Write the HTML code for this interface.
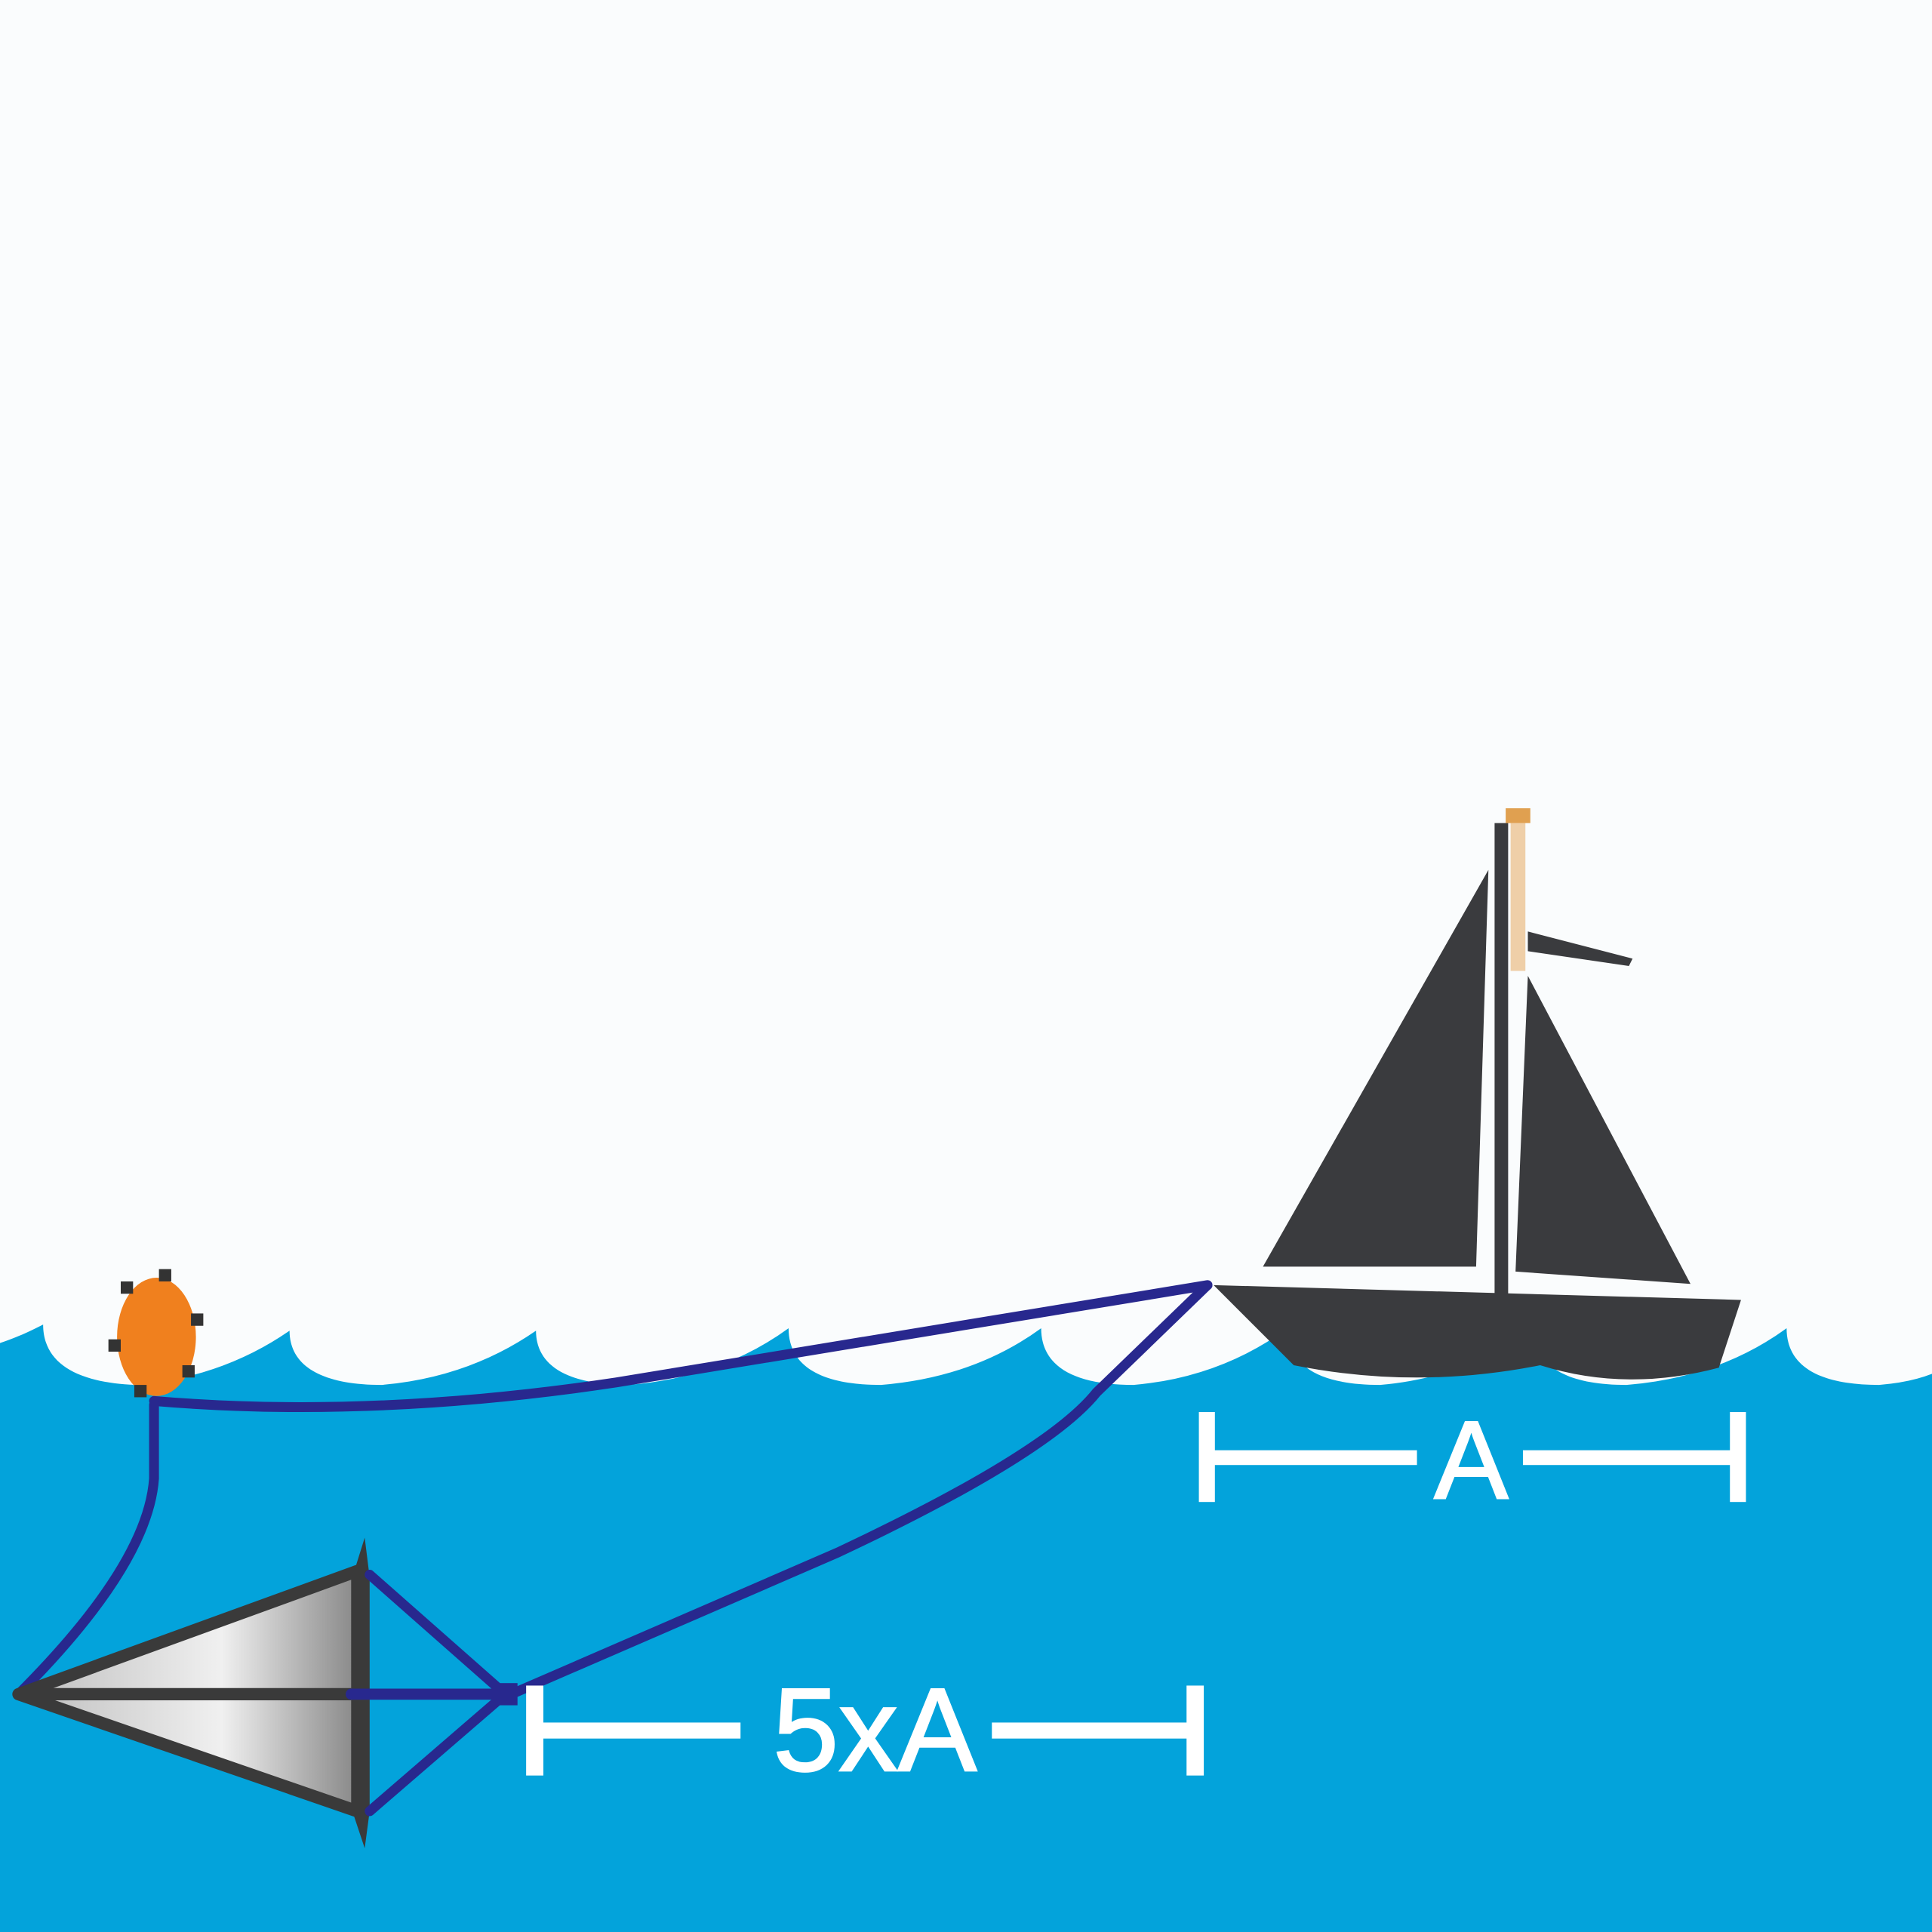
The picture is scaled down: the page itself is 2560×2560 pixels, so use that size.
<!DOCTYPE html>
<html><head><style>html,body{margin:0;padding:0;background:#fafcfd}svg{display:block}</style></head>
<body>
<svg width="2560" height="2560" viewBox="0 0 1568 1568" xmlns="http://www.w3.org/2000/svg">
<defs>
<linearGradient id="g" x1="0" y1="0" x2="1" y2="0">
<stop offset="0" stop-color="#bdbdbd"/><stop offset="0.6" stop-color="#f0f0f0"/><stop offset="1" stop-color="#888"/>
</linearGradient>
</defs>
<rect width="1568" height="1568" fill="#fafcfd"/>
<path d="M0,1090 C15,1085 25,1080 35,1075 C35,1105 60,1122 110,1124 Q180,1118 235,1080 C235,1108 260,1124 310,1124 Q380,1118 435,1080 C435,1108 460,1124 510,1124 Q585,1118 640,1078 C640,1108 665,1124 715,1124 Q790,1118 845,1078 C845,1108 870,1124 920,1124 Q990,1118 1045,1078 C1045,1108 1070,1124 1120,1124 Q1190,1118 1245,1078 C1245,1108 1270,1124 1320,1124 Q1395,1118 1450,1078 C1450,1108 1475,1124 1525,1124 Q1550,1122 1568,1115 L1568,1568 L0,1568 Z" fill="#03a3db"/>
<!-- boat -->
<path d="M985,1043 L1413,1055 L1395,1110 Q1320,1130 1250,1108 Q1150,1128 1050,1108 Z" fill="#3a3b3e"/>
<polygon points="1208,706 1025,1028 1198,1028" fill="#3a3b3e"/>
<polygon points="1240,792 1372,1042 1230,1032" fill="#3a3b3e"/>
<rect x="1213" y="668" width="11" height="382" fill="#3a3b3e"/>
<rect x="1222" y="656" width="20" height="12" fill="#e0a050"/>
<rect x="1226" y="668" width="12" height="120" fill="#e8b070" opacity="0.6"/>
<polygon points="1240,756 1325,778 1322,784 1240,772" fill="#3a3b3e"/>
<!-- ropes -->
<g fill="none" stroke="#28288e" stroke-width="8" stroke-linecap="round" stroke-linejoin="round">
<path d="M125,1137 Q300,1152 500,1122 L980,1043"/>
<path d="M980,1043 L890,1130 Q850,1180 680,1260 L415,1375"/>
<path d="M125,1140 L125,1200 Q120,1270 15,1375"/>
</g>
<!-- drogue -->
<polygon points="15,1375 290,1275 290,1470" fill="url(#g)" stroke="#3a3a3a" stroke-width="10" stroke-linejoin="round"/>
<line x1="15" y1="1375" x2="285" y2="1375" stroke="#3a3a3a" stroke-width="10"/>
<path d="M296,1248 L300,1280 L300,1470 L296,1500 L286,1470 L286,1280 Z" fill="#3a3a3a"/>
<g stroke="#28288e" stroke-width="8" stroke-linecap="round">
<line x1="300" y1="1278" x2="410" y2="1375"/>
<line x1="300" y1="1470" x2="410" y2="1375"/>
<line x1="285" y1="1375" x2="410" y2="1375" stroke-width="9"/>
</g>
<rect x="402" y="1366" width="18" height="18" fill="#28288e"/>
<!-- buoy -->
<ellipse cx="127" cy="1085" rx="32" ry="48" fill="#f0801e"/>
<g fill="#333">
<rect x="98" y="1040" width="10" height="10"/><rect x="129" y="1030" width="10" height="10"/>
<rect x="155" y="1066" width="10" height="10"/><rect x="88" y="1087" width="10" height="10"/>
<rect x="148" y="1108" width="10" height="10"/><rect x="109" y="1124" width="10" height="10"/>
</g>
<!-- dimensions -->
<g fill="#fff">
<rect x="973" y="1146" width="13" height="73"/><rect x="1404" y="1146" width="13" height="73"/>
<rect x="980" y="1177" width="170" height="12"/><rect x="1236" y="1177" width="175" height="12"/>
<rect x="427" y="1368" width="14" height="73"/><rect x="963" y="1368" width="14" height="73"/>
<rect x="433" y="1398" width="168" height="13"/><rect x="805" y="1398" width="165" height="13"/>
</g>
<text x="1194" y="1216" font-family="Liberation Sans, sans-serif" font-size="90" fill="#fff" stroke="#fff" stroke-width="1.5" text-anchor="middle">A</text>
<text x="710" y="1437" font-family="Liberation Sans, sans-serif" font-size="96" fill="#fff" stroke="#fff" stroke-width="1.5" text-anchor="middle">5xA</text>
</svg>
</body></html>
